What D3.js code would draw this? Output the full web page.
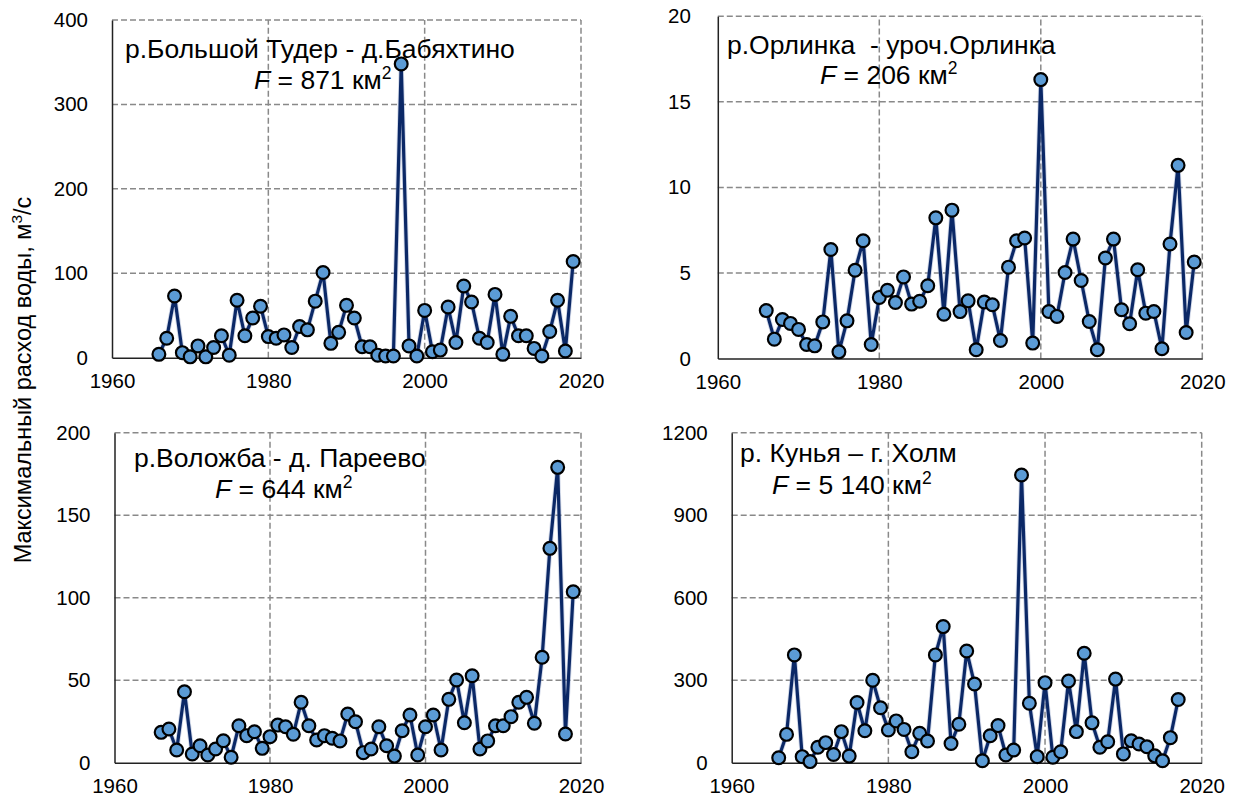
<!DOCTYPE html>
<html><head><meta charset="utf-8">
<script src="https://cdn.jsdelivr.net/npm/d3@7/dist/d3.min.js"></script>
<style>
html,body{margin:0;padding:0;background:#fff;}
svg{display:block;font-family:"Liberation Sans",Arial,sans-serif;}
text{white-space:pre;}
</style></head><body>
<svg id="chart" width="1240" height="805"></svg>
<script>
// ---- Data ----
const yearsTuder = d3.range(1966, 2020);
const valuesTuder = [4,23,73,6,1,14,1,12,26,3,68,26,47,61,25,23,27,12,37,33,67,101,17,30,62,47,13,13,3,2,2,348,14,2,56,7,9,60,18,85,66,23,18,75,4,49,26,26,11,2,31,68,8,114];

const yearsOrlinka = d3.range(1966, 2020);
const valuesOrlinka = [2.8,1.13,2.28,2.05,1.7,0.82,0.74,2.14,6.37,0.39,2.2,5.16,6.88,0.82,3.57,3.99,3.27,4.77,3.18,3.35,4.25,8.22,2.59,8.67,2.74,3.37,0.51,3.3,3.14,1.05,5.34,6.88,7.04,0.9,16.3,2.75,2.46,5.03,6.98,4.56,2.16,0.51,5.87,6.98,2.85,2.03,5.19,2.65,2.75,0.57,6.69,11.29,1.52,5.64];

const yearsVolozhba = d3.range(1966, 2020);
const valuesVolozhba = [18.4,20.4,7.7,43,5.3,10.3,4.7,8.3,13.3,3.3,22.4,16.4,18.8,8.7,15.8,22.8,21.8,17.2,36.6,22.4,13.8,16.4,14.8,13.2,29.5,24.8,6.1,8.3,21.8,10.3,4.0,19.4,28.9,4.7,21.8,28.9,7.7,38.4,50.1,24.2,52.7,8.3,13.2,22.4,22.4,27.9,36.6,39.6,23.9,63.9,129.9,179,17.4,103.6];

const yearsKunya = d3.range(1966, 2018);
const valuesKunya = [18,103,392,22,4,56,73,30,113,24,219,116,300,200,119,152,121,40,107,79,392,495,70,140,406,286,7,98,135,28,46,1046,216,22,291,20,40,297,113,398,145,56,76,304,32,80,68,58,25,7,91,230];

const xTicks = [1960, 1980, 2000, 2020];
const yTicksTuder = [0,100,200,300,400];
const yTicksOrlinka = [0,5,10,15,20];
const yTicksVolozhba = [0,50,100,150,200];
const yTicksKunya = [0,300,600,900,1200];

const titleTuder = "р.Большой Тудер - д.Бабяхтино";
const titleOrlinka = "р.Орлинка  - уроч.Орлинка";
const titleVolozhba = "р.Воложба - д. Пареево";
const titleKunya = "р. Кунья – г. Холм";
const areaTuder = "871";
const areaOrlinka = "206";
const areaVolozhba = "644";
const areaKunya = "5 140";
const yAxisLabel = "Максимальный расход воды, м";

// ---- Drawing ----
const svg = d3.select("#chart");

function panel(cfg){
  const g = svg.append("g");
  const x = d3.scaleLinear().domain([1960, 2020]).range([cfg.x0, cfg.x1]);
  const y = d3.scaleLinear().domain([0, d3.max(cfg.yTicks)]).range([cfg.y0, cfg.y1]);

  // gridlines
  g.selectAll(".hg").data(cfg.yTicks.filter(d => d > 0)).join("line")
    .attr("x1", cfg.x0).attr("x2", cfg.x1)
    .attr("y1", d => y(d)).attr("y2", d => y(d))
    .attr("stroke", "#898989").attr("stroke-width", 1.5).attr("stroke-dasharray", "6,3");
  g.selectAll(".vg").data(xTicks.filter(d => d > 1960)).join("line")
    .attr("x1", d => x(d)).attr("x2", d => x(d))
    .attr("y1", cfg.y0).attr("y2", cfg.y1)
    .attr("stroke", "#898989").attr("stroke-width", 1.5).attr("stroke-dasharray", "6,3");

  // axes
  const ax = g.append("g").attr("transform", `translate(0,${cfg.y0})`)
    .call(d3.axisBottom(x).tickValues(xTicks).tickFormat(d3.format("d")).tickSize(0).tickPadding(16));
  ax.select(".domain").attr("stroke", "#222").attr("stroke-width", 1.5);
  ax.selectAll("text").attr("font-size", 20.5).attr("fill", "#000").attr("font-family", "Liberation Sans, Arial, sans-serif");

  const ay = g.append("g").attr("transform", `translate(${cfg.x0},0)`)
    .call(d3.axisLeft(y).tickValues(cfg.yTicks).tickFormat(d3.format("d")).tickSize(0).tickPadding(cfg.ypad));
  ay.select(".domain").attr("stroke", "#222").attr("stroke-width", 1.5);
  ay.selectAll("text").attr("font-size", 20.5).attr("fill", "#000").attr("font-family", "Liberation Sans, Arial, sans-serif");

  // line
  const pts = cfg.years.map((yr, i) => [yr, cfg.values[i]]);
  const line = d3.line().x(d => x(d[0])).y(d => y(d[1]));
  g.append("path").datum(pts).attr("d", line)
    .attr("fill", "none").attr("stroke", "#7f93c0").attr("stroke-width", 5).attr("stroke-linejoin", "round").attr("opacity", 0.35);
  g.append("path").datum(pts).attr("d", line)
    .attr("fill", "none").attr("stroke", "#0b2866").attr("stroke-width", 3.2).attr("stroke-linejoin", "round");

  // markers
  g.selectAll(".pt").data(pts).join("circle")
    .attr("cx", d => x(d[0])).attr("cy", d => y(d[1])).attr("r", 6.4)
    .attr("fill", "#5b9bd5").attr("stroke", "#000").attr("stroke-width", 2.2);

  // annotation
  g.append("text").attr("x", cfg.tx).attr("y", cfg.ty).attr("font-size", cfg.tfs).attr("fill", "#000").text(cfg.title);
  const f = g.append("text").attr("x", cfg.fx).attr("y", cfg.fy).attr("font-size", cfg.tfs).attr("fill", "#000");
  f.append("tspan").attr("font-style", "italic").text("F");
  f.append("tspan").text(" = " + cfg.area + " км");
  f.append("tspan").attr("font-size", cfg.tfs * 0.66).attr("dy", -10).text("2");
}

panel({x0:112, x1:581, y0:357.7, y1:20, yTicks:yTicksTuder, ypad:24, years:yearsTuder, values:valuesTuder,
  title:titleTuder, area:areaTuder, tx:125, ty:58, fx:254, fy:89, tfs:26.5});
panel({x0:717.8, x1:1202.3, y0:358.5, y1:16.3, yTicks:yTicksOrlinka, ypad:27, years:yearsOrlinka, values:valuesOrlinka,
  title:titleOrlinka, area:areaOrlinka, tx:727, ty:54, fx:820, fy:84, tfs:26.5});
panel({x0:114.5, x1:581, y0:762.7, y1:432.7, yTicks:yTicksVolozhba, ypad:24, years:yearsVolozhba, values:valuesVolozhba,
  title:titleVolozhba, area:areaVolozhba, tx:134, ty:467, fx:215, fy:498, tfs:26.5});
panel({x0:731.7, x1:1201.7, y0:762.7, y1:432.7, yTicks:yTicksKunya, ypad:24, years:yearsKunya, values:valuesKunya,
  title:titleKunya, area:areaKunya, tx:740, ty:462, fx:772, fy:494, tfs:26.5});

// y axis label
const yl = svg.append("text").attr("transform", "translate(31,380) rotate(-90)")
  .attr("text-anchor", "middle").attr("font-size", 23.5).attr("fill", "#000");
yl.append("tspan").text(yAxisLabel);
yl.append("tspan").attr("font-size", 15.5).attr("dy", -9).text("3");
yl.append("tspan").attr("dy", 9).text("/с");
</script></body></html>
